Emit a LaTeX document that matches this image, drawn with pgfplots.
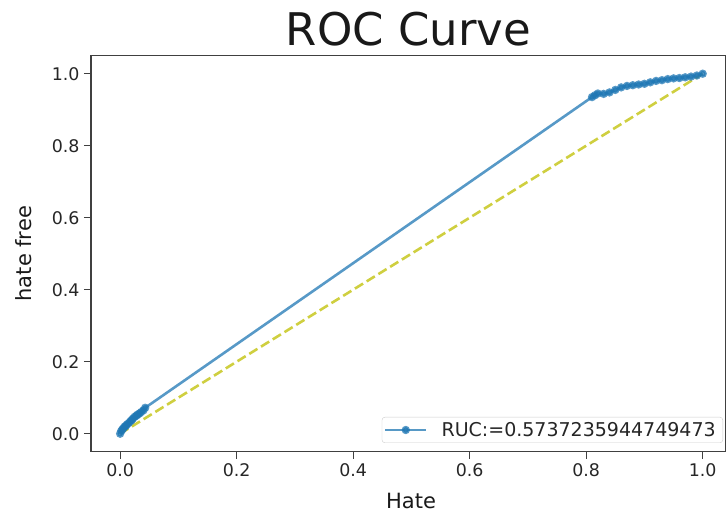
\documentclass[border=0pt]{standalone}
\usepackage{fontspec}
\setmainfont{DejaVu Sans}
\usepackage{pgfplots}
\pgfplotsset{compat=1.18}
\definecolor{mplblue}{HTML}{1F77B4}
\definecolor{mply}{rgb}{0.75,0.75,0}
\begin{document}
\begin{tikzpicture}
\begin{axis}[
  scale only axis, width=635pt, height=396pt,
  xmin=-0.05, xmax=1.04, ymin=-0.05, ymax=1.05,
  xtick={0,0.2,0.4,0.6,0.8,1.0}, ytick={0,0.2,0.4,0.6,0.8,1.0},
  xtick pos=left, ytick pos=left,
  tick align=outside, major tick length=7pt,
  every tick/.style={black!75, line width=1.2pt},
  axis line style={black!75, line width=1.3pt},
  /pgf/number format/assume math mode=true,
  /pgf/number format/fixed, /pgf/number format/fixed zerofill, /pgf/number format/precision=1,
  ticklabel style={font=\fontsize{17.4}{20}\selectfont, text=black!85},
  xticklabel style={yshift=-1pt},
  yticklabel style={xshift=-1pt},
  title={ROC Curve},
  title style={at={(axis description cs:0.5,1)}, anchor=base, yshift=4pt, font=\fontsize{45}{50}\selectfont, text=black!90},
  xlabel={Hate},
  xlabel style={at={(axis description cs:0.504,0)}, anchor=base, yshift=-57pt, font=\fontsize{21}{24}\selectfont, text=black!90},
  ylabel={hate free},
  ylabel style={at={(axis description cs:-0.093,0.5)}, anchor=base, font=\fontsize{21}{24}\selectfont, text=black!90},
  legend style={at={(axis description cs:0.9953,0.022)}, anchor=south east, draw=black!20, rounded corners=3pt, font=\fontsize{19}{22}\selectfont, text=black!85, inner xsep=2pt, inner ysep=3pt, fill=white,
    nodes={inner xsep=5pt}, /tikz/every odd column/.append style={column sep=9pt}},
  legend cell align=left,
]
\addplot[mply, opacity=0.75, line width=2.6pt, dash pattern=on 9.6pt off 4.2pt, forget plot] coordinates {(0,0) (1,1)};
\addplot[mplblue, opacity=0.75, line width=2.6pt, mark=*, mark size=2.8pt, mark options={solid, draw=mplblue, fill=mplblue},
  legend image code/.code={\draw[mark repeat=2,mark phase=2] plot coordinates {(0pt,0pt) (20.5pt,0pt) (41pt,0pt)};}]
coordinates {
(0,0) (0.002,0.008) (0.004,0.012) (0.006,0.016) (0.008,0.02) (0.01,0.022)
(0.012,0.026) (0.015,0.03) (0.018,0.035) (0.02,0.038) (0.022,0.042) (0.025,0.047)
(0.028,0.05) (0.03,0.053) (0.033,0.056) (0.036,0.06) (0.04,0.065) (0.043,0.072)
(0.81,0.935) (0.815,0.94) (0.82,0.945) (0.83,0.944) (0.84,0.948) (0.85,0.955)
(0.86,0.962) (0.87,0.966) (0.88,0.968) (0.89,0.97) (0.9,0.972) (0.91,0.976)
(0.92,0.98) (0.93,0.982) (0.94,0.985) (0.95,0.987) (0.96,0.988) (0.97,0.99)
(0.98,0.992) (0.99,0.995) (1.0,1.0)
};
\addlegendentry{RUC:=0.5737235944749473}
\end{axis}
\pgfresetboundingbox
\path ([shift={(-91pt,-63.3pt)}]current axis.south west) rectangle ++(726pt,515pt);
\end{tikzpicture}
\end{document}
